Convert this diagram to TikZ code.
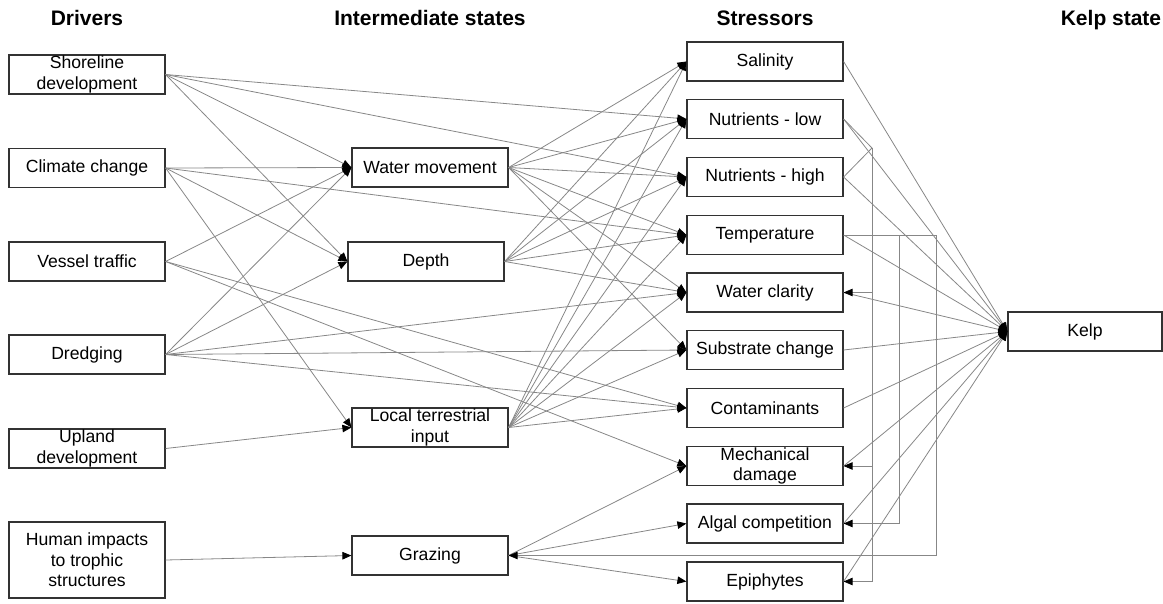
\documentclass[tikz,border=0pt]{standalone}
\usepackage{fontspec}
\setmainfont{Liberation Sans}
\usetikzlibrary{arrows.meta}
\definecolor{linkgray}{RGB}{135,135,135}
\definecolor{boxline}{RGB}{50,50,50}
\begin{document}
\begin{tikzpicture}[x=1pt,y=-1pt,
  box/.style={draw=boxline, line width=1.2pt, fill=white, minimum width=156pt, minimum height=39pt, inner sep=0pt, align=center, font=\fontsize{17.6}{20.5}\selectfont},
  hdr/.style={anchor=base, font=\bfseries\fontsize{21}{24}\selectfont},
  link/.style={draw=linkgray, line width=0.8pt, -{Triangle[length=9pt,width=7.5pt,color=black]}},
  plain/.style={draw=linkgray, line width=0.8pt}]
\useasboundingbox (0,0) rectangle (1163,603);
% headers
\node[hdr] (h1) at (87,25) {Drivers};
\node[hdr] (h2) at (430,25) {Intermediate states};
\node[hdr] (h3) at (765,25) {Stressors};
\node[hdr] (h4) at (1111,25) {Kelp state};
% drivers
\node[box] (shore) at (87,74.5) {Shoreline\\development};
\node[box] (clim) at (87,168) {Climate change};
\node[box] (vess) at (87,261.5) {Vessel traffic};
\node[box] (dred) at (87,354.5) {Dredging};
\node[box] (upl) at (87,448.5) {Upland\\development};
\node[box, minimum height=76pt] (hum) at (87,560) {Human impacts\\to trophic\\structures};
% intermediate
\node[box] (wm) at (430,167.5) {Water movement};
\node[box] (depth) at (426,261.5) {Depth};
\node[box] (local) at (430,427.5) {Local terrestrial\\input};
\node[box] (graz) at (430,555.5) {Grazing};
% stressors
\node[box] (sal) at (765,61.5) {Salinity};
\node[box] (nl) at (765,119) {Nutrients - low};
\node[box] (nh) at (765,177) {Nutrients - high};
\node[box] (temp) at (765,235) {Temperature};
\node[box] (wc) at (765,292.5) {Water clarity};
\node[box] (sub) at (765,350) {Substrate change};
\node[box] (cont) at (765,408) {Contaminants};
\node[box] (mech) at (765,466) {Mechanical\\damage};
\node[box] (alg) at (765,523.5) {Algal competition};
\node[box] (epi) at (765,581.5) {Epiphytes};
% kelp
\node[box, minimum width=154pt] (kelp) at (1085,331.5) {Kelp};
% driver / intermediate links
\foreach \s/\t in {shore/nl, shore/nh, shore/wm, shore/depth,
  clim/wm, clim/temp, clim/depth, clim/local,
  vess/wm, vess/cont, vess/mech,
  dred/wm, dred/depth, dred/wc, dred/sub, dred/cont,
  upl/local, hum/graz,
  wm/sal, wm/nl, wm/nh, wm/temp, wm/wc, wm/sub,
  depth/sal, depth/nl, depth/nh, depth/temp, depth/wc,
  local/sal, local/nl, local/nh, local/temp, local/wc, local/sub, local/cont,
  graz/mech, graz/alg, graz/epi}
  \draw[link] (\s.east) -- (\t.west);
% stressors to kelp
\foreach \s in {sal,nl,nh,temp,wc,sub,cont,mech,alg,epi}
  \draw[link] (\s.east) -- (kelp.west);
% nutrient feedback
\coordinate (nj) at (872,148);
\draw[plain] (nl.east) -- (nj);
\draw[plain] (nh.east) -- (nj);
\draw[link] (nj) |- (wc.east);
\draw[link] (nj) |- (mech.east);
\draw[link] (nj) |- (epi.east);
% temperature feedback
\coordinate (ta) at (899,235);
\coordinate (tb) at (936,235);
\draw[link] (temp.east) -- (ta) |- (alg.east);
\draw[link] (temp.east) -- (tb) |- (graz.east);
\end{tikzpicture}
\end{document}
